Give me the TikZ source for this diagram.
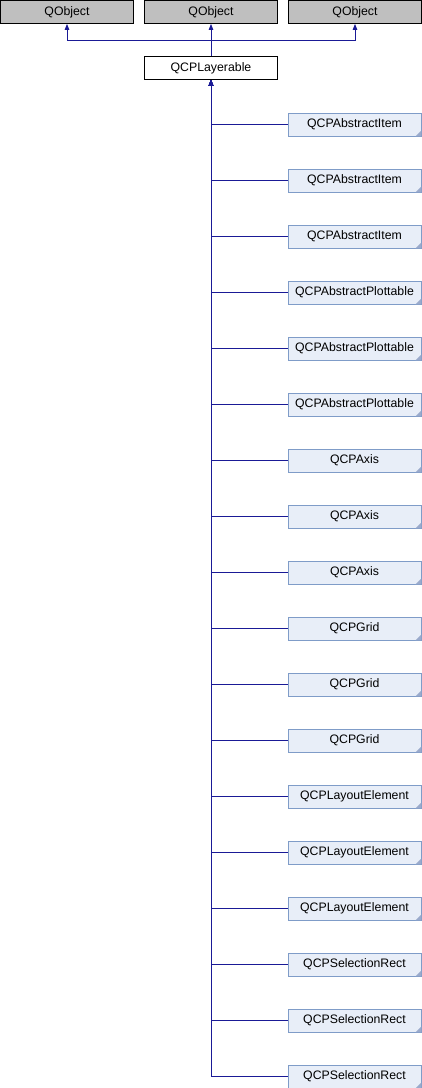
\documentclass[tikz,border=0pt]{standalone}
\usepackage{fontspec}
\setmainfont{Liberation Sans}
\usetikzlibrary{arrows.meta}
\definecolor{edgeblue}{HTML}{1A1A96}
\definecolor{childfill}{HTML}{E8EEF8}
\definecolor{childdraw}{HTML}{7F9CC8}
\definecolor{cornerfill}{HTML}{9AAACC}
\definecolor{greyfill}{HTML}{BFBFBF}
\tikzset{
  basebox/.style={rectangle, minimum width=133pt, minimum height=23pt, inner sep=0pt, font=\fontsize{12.3}{14}\selectfont, line width=0.8pt},
  parentbox/.style={basebox, draw=black, fill=greyfill},
  layerbox/.style={basebox, draw=black, fill=white},
  childbox/.style={basebox, draw=childdraw, fill=childfill},
  corner/.style={fill=cornerfill},
  edge/.style={draw=edgeblue, line width=1pt, -{Triangle[length=6pt,width=4.5pt]}},
}
\begin{document}
\begin{tikzpicture}[x=1pt,y=-1pt]
\useasboundingbox (0,0) rectangle (422,1088);
\node[parentbox] (qo1) at (67,12) {QObject};
\node[parentbox] (qo2) at (211,12) {QObject};
\node[parentbox] (qo3) at (355,12) {QObject};
\node[layerbox] (layer) at (211,68) {QCPLayerable};
\coordinate (j) at (211,40);
\draw[edge] (layer.north) -- (qo2.south);
\draw[edge] (layer.north) -- (j) -| (qo1.south);
\draw[edge] (layer.north) -- (j) -| (qo3.south);
\foreach \i/\t in {0/QCPAbstractItem,1/QCPAbstractItem,2/QCPAbstractItem,
  3/QCPAbstractPlottable,4/QCPAbstractPlottable,5/QCPAbstractPlottable,
  6/QCPAxis,7/QCPAxis,8/QCPAxis,
  9/QCPGrid,10/QCPGrid,11/QCPGrid,
  12/QCPLayoutElement,13/QCPLayoutElement,14/QCPLayoutElement,
  15/QCPSelectionRect,16/QCPSelectionRect,17/QCPSelectionRect}{
  \node[childbox] (c\i) at (354.5,124.5+56*\i) {\t};
  \fill[corner] ([xshift=-6pt]c\i.south east) -- ([yshift=6pt]c\i.south east) -- (c\i.south east) -- cycle;
  \draw[edge] (c\i.west) -| (layer.south);
}
\end{tikzpicture}
\end{document}
